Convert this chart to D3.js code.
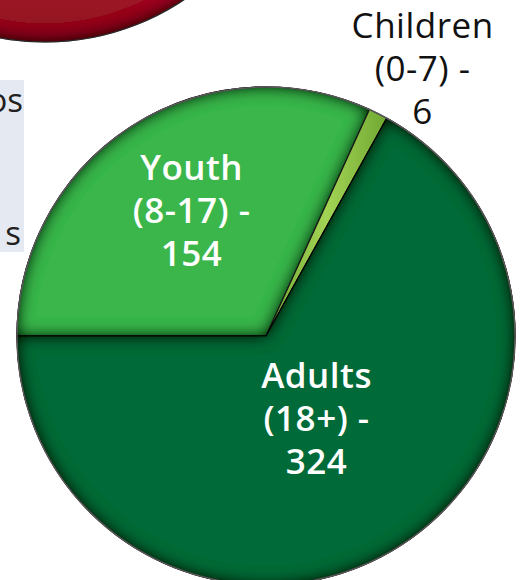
<!DOCTYPE html>
<html>
<head>
<meta charset="utf-8">
<script src="https://cdn.jsdelivr.net/npm/d3@7"></script>
<style>
  html, body { margin: 0; padding: 0; background: #fff; }
  svg { display: block; }
  text { font-family: "Open Sans", "Noto Sans", sans-serif; }
</style>
</head>
<body>
<div id="chart"></div>
<script>
// Age groups, drawn clockwise starting at 9 o'clock.
const categories = ['Youth', 'Children', 'Adults'];
const ranges     = ['(8-17)', '(0-7)', '(18+)'];
const values     = [154, 6, 324];

// Neighbouring chart, only its bottom edge is visible.
const neighbourValues = [1];
// Side note box, clipped by the left edge.
const noteLines = ['os', 's'];

const W = 522, H = 580;
const cx = 266, cy = 336, R = 249;

const FILL = {
  Youth:    '#3bb64b',
  Children: '#8dc63f',
  Adults:   '#006a39',
};
// label placement: radius as fraction of R, x/y nudge, colour, weight
const LABEL = {
  Youth:    { r: 0.56, dx: 1,  dy: -8, fill: '#fff', weight: 600 },
  Children: { r: 1.20, dx: 22, dy: 0,  fill: '#111', weight: 400 },
  Adults:   { r: 0.40, dx: 0,  dy: -3, fill: '#fff', weight: 600 },
};

const svg = d3.select('#chart').append('svg')
  .attr('width', W)
  .attr('height', H);

const defs = svg.append('defs');

// Inner shadow used for the bevelled look of the slices.
const inset = defs.append('filter')
  .attr('id', 'inset')
  .attr('x', '-10%').attr('y', '-10%')
  .attr('width', '120%').attr('height', '120%');
inset.append('feFlood').attr('flood-color', '#000').attr('flood-opacity', 1);
inset.append('feComposite').attr('in2', 'SourceAlpha').attr('operator', 'out');
inset.append('feGaussianBlur').attr('stdDeviation', 8).attr('result', 'blur');
inset.append('feComposite').attr('in2', 'SourceAlpha').attr('operator', 'in').attr('result', 'shadow');
const merge = inset.append('feMerge');
merge.append('feMergeNode').attr('in', 'SourceGraphic');
merge.append('feMergeNode').attr('in', 'shadow');
merge.append('feMergeNode').attr('in', 'shadow');

const redGrad = defs.append('linearGradient')
  .attr('id', 'redGrad')
  .attr('x1', 0).attr('y1', 0).attr('x2', 0).attr('y2', 1);
redGrad.append('stop').attr('offset', '75%').attr('stop-color', '#c21f30');
redGrad.append('stop').attr('offset', '100%').attr('stop-color', '#8a1420');

const childGrad = defs.append('linearGradient')
  .attr('id', 'childGrad')
  .attr('x1', 0).attr('y1', 0).attr('x2', 1).attr('y2', 0);
childGrad.append('stop').attr('offset', '0%').attr('stop-color', '#6fa832');
childGrad.append('stop').attr('offset', '50%').attr('stop-color', '#a3d454');
childGrad.append('stop').attr('offset', '100%').attr('stop-color', '#6fa832');

// ---- neighbouring red chart (top left) ----
const neighbourArc = d3.arc().innerRadius(0).outerRadius(R);
svg.append('g')
  .attr('transform', `translate(45,${42 - R})`)
  .selectAll('path')
  .data(d3.pie().sort(null)(neighbourValues))
  .join('path')
  .attr('d', neighbourArc)
  .attr('fill', 'url(#redGrad)')
  .attr('filter', 'url(#inset)')
  .attr('stroke', '#555')
  .attr('stroke-width', 1.2);

// ---- note box (left, clipped) ----
const note = svg.append('g');
note.append('rect')
  .attr('x', -10).attr('y', 80)
  .attr('width', 34).attr('height', 172)
  .attr('fill', '#e5e9f1');
note.selectAll('text')
  .data(noteLines)
  .join('text')
  .attr('x', (d, i) => i === 0 ? 23 : 21)
  .attr('y', (d, i) => i === 0 ? 112 : 245)
  .attr('text-anchor', 'end')
  .attr('font-size', 33)
  .attr('fill', '#231f20')
  .text(d => d);

// ---- main pie ----
const pie = d3.pie()
  .sort(null)
  .startAngle(-Math.PI / 2)
  .endAngle(Math.PI * 1.5);

const arcs = pie(values).map((a, i) => ({ ...a, key: categories[i], range: ranges[i] }));
const arc = d3.arc().innerRadius(0).outerRadius(R);

const g = svg.append('g').attr('transform', `translate(${cx},${cy})`);

g.selectAll('path.slice')
  .data(arcs)
  .join('path')
  .attr('class', 'slice')
  .attr('d', arc)
  .attr('fill', d => d.key === 'Children' ? 'url(#childGrad)' : FILL[d.key])
  .attr('filter', d => d.key === 'Children' ? null : 'url(#inset)')
  .attr('stroke', '#1a1a1a')
  .attr('stroke-width', 1.2)
  .attr('stroke-linejoin', 'round');

// thin grey rim around the whole pie
g.append('circle')
  .attr('r', R)
  .attr('fill', 'none')
  .attr('stroke', '#5a5a5a')
  .attr('stroke-width', 1.5);

// ---- labels ----
const lineGap = 43;
const label = g.selectAll('text.label')
  .data(arcs)
  .join('text')
  .attr('class', 'label')
  .attr('text-anchor', 'middle')
  .attr('font-size', 35)
  .attr('letter-spacing', 0.5)
  .attr('font-weight', d => LABEL[d.key].weight)
  .attr('fill', d => LABEL[d.key].fill)
  .attr('transform', d => {
    const [x, y] = d3.arc().innerRadius(0).outerRadius(R * LABEL[d.key].r * 2).centroid(d);
    return `translate(${x + LABEL[d.key].dx},${y + 12 + LABEL[d.key].dy})`;
  });

label.each(function(d) {
  const lines = [d.key, d.range + ' -', String(d.value)];
  d3.select(this).selectAll('tspan')
    .data(lines)
    .join('tspan')
    .attr('x', 0)
    .attr('y', (t, i) => (i - 1) * lineGap)
    .text(t => t);
});
</script>
</body>
</html>
